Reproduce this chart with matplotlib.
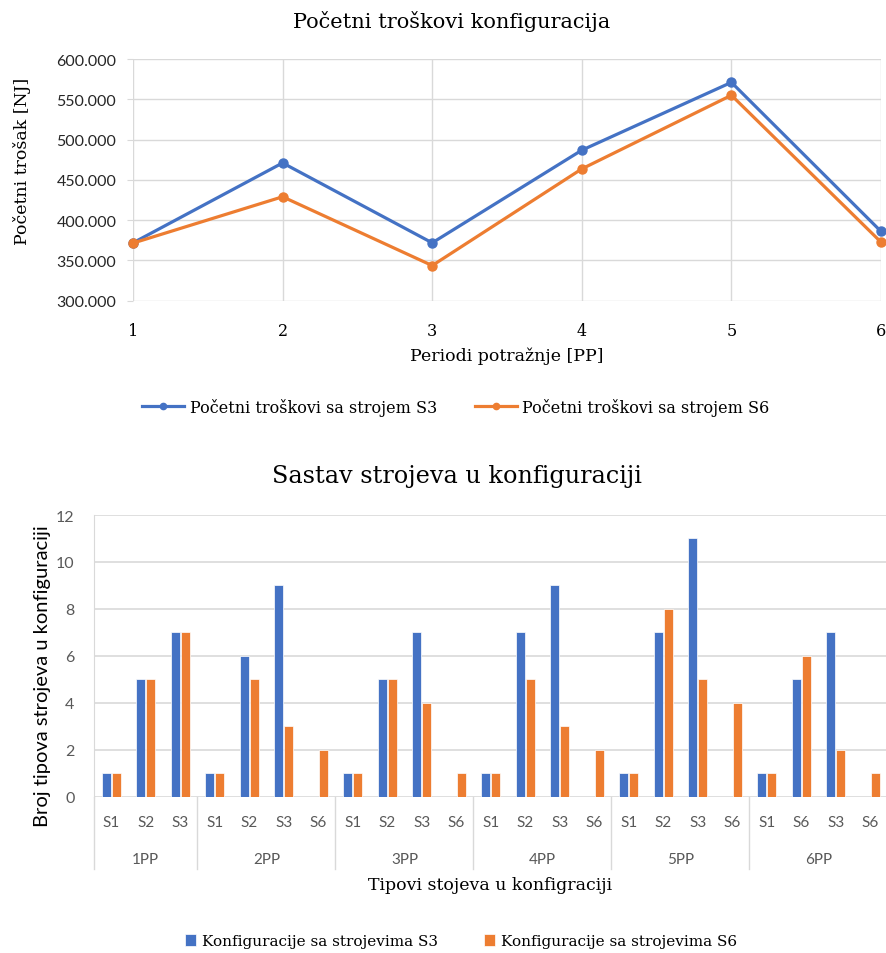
import numpy as np
import matplotlib.pyplot as plt
from matplotlib.ticker import FuncFormatter
from matplotlib.lines import Line2D
import matplotlib.transforms as mtransforms

# --- initial configuration costs per demand period ---
periods = [1, 2, 3, 4, 5, 6]
cost_s3 = [371800, 471000, 371800, 486800, 571000, 386000]
cost_s6 = [371500, 429000, 343600, 463600, 555000, 372700]

# --- machine counts per configuration ---
groups = ["1PP", "2PP", "3PP", "4PP", "5PP", "6PP"]
machines = [
    ["S1", "S2", "S3"],
    ["S1", "S2", "S3", "S6"],
    ["S1", "S2", "S3", "S6"],
    ["S1", "S2", "S3", "S6"],
    ["S1", "S2", "S3", "S6"],
    ["S1", "S6", "S3", "S6"],
]
count_s3 = [
    [1, 5, 7],
    [1, 6, 9, 0],
    [1, 5, 7, 0],
    [1, 7, 9, 0],
    [1, 7, 11, 0],
    [1, 5, 7, 0],
]
count_s6 = [
    [1, 5, 7],
    [1, 5, 3, 2],
    [1, 5, 4, 1],
    [1, 5, 3, 2],
    [1, 8, 5, 4],
    [1, 6, 2, 1],
]

BLUE = "#4472C4"
ORANGE = "#ED7D31"
GRID = "#D9D9D9"
TXT = "#595959"
SERIF = "DejaVu Serif"
SANS = "Lato"

W, H = 887, 954
fig = plt.figure(figsize=(W / 100, H / 100), dpi=100)


def box(l, t, r, b):
    return [l / W, 1 - b / H, (r - l) / W, (b - t) / H]


# ---------------- top: line chart ----------------
ax1 = fig.add_axes(box(133, 60, 881, 301.7))
ax1.plot(periods, cost_s3, "o-", color=BLUE, lw=2.3, ms=6.5, clip_on=False, zorder=3)
ax1.plot(periods, cost_s6, "o-", color=ORANGE, lw=2.3, ms=6.5, clip_on=False, zorder=3)
ax1.set_xlim(1, 6)
ax1.set_ylim(300000, 600000)
ax1.set_yticks(np.arange(300000, 600001, 50000))
ax1.set_xticks(periods)
ax1.yaxis.set_major_formatter(FuncFormatter(lambda v, p: f"{int(v):,}".replace(",", ".")))
ax1.grid(True, color=GRID, lw=1)
for s in ax1.spines.values():
    s.set_visible(False)
ax1.tick_params(axis="y", length=4, color=GRID, pad=8, labelsize=11.5, labelcolor="#262626")
ax1.tick_params(axis="x", length=0, pad=15)
for lab in ax1.get_yticklabels():
    lab.set_fontfamily(SANS)
for lab in ax1.get_xticklabels():
    lab.set_fontfamily(SERIF)
    lab.set_fontsize(11.5)
ax1.set_xlabel("Periodi potražnje [PP]", family=SERIF, fontsize=12.5, labelpad=6)
fig.text(22 / W, 1 - 161 / H, "Početni trošak [NJ]", family=SERIF, fontsize=12.5,
         ha="center", va="center", rotation=90)
fig.text(452 / W, 1 - 22 / H, "Početni troškovi konfiguracija", family=SERIF,
         fontsize=15, ha="center", va="center")
line_handles = [
    Line2D([], [], color=BLUE, lw=2.3, marker="o", ms=4.5),
    Line2D([], [], color=ORANGE, lw=2.3, marker="o", ms=4.5),
]
fig.legend(line_handles, ["Početni troškovi sa strojem S3", "Početni troškovi sa strojem S6"],
           loc="center", bbox_to_anchor=(456 / W, 1 - 408 / H),
           ncol=2, frameon=False, prop={"family": SERIF, "size": 11.5},
           handlelength=2.6, columnspacing=2.4, handletextpad=0.35)

# ---------------- bottom: grouped bars ----------------
ax2 = fig.add_axes(box(94, 516, 887.5, 797.7))
labels = [m for grp in machines for m in grp]
vals_s3 = [v for grp in count_s3 for v in grp]
vals_s6 = [v for grp in count_s6 for v in grp]
x = np.arange(len(labels))
bw = 0.25
ax2.bar(x - 0.145, vals_s3, bw, color=BLUE, edgecolor="white", lw=0.5,
        label="Konfiguracije sa strojevima S3", zorder=3)
ax2.bar(x + 0.145, vals_s6, bw, color=ORANGE, edgecolor="white", lw=0.5,
        label="Konfiguracije sa strojevima S6", zorder=3)
ax2.set_xlim(-0.5, len(labels) - 0.5)
ax2.set_ylim(0, 12)
ax2.set_yticks(range(0, 13, 2))
ax2.yaxis.grid(True, color=GRID, lw=1.2)
ax2.set_axisbelow(True)
for s in ["top", "right", "bottom"]:
    ax2.spines[s].set_visible(False)
ax2.spines["left"].set_color(GRID)
ax2.set_xticks(x)
ax2.set_xticklabels(labels)
ax2.tick_params(axis="x", length=0, pad=13, labelsize=11, labelcolor=TXT)
ax2.tick_params(axis="y", length=0, pad=14, labelsize=11.5, labelcolor=TXT)
for lab in ax2.get_xticklabels() + ax2.get_yticklabels():
    lab.set_fontfamily(SANS)

# category group separators and group names
trans = mtransforms.blended_transform_factory(ax2.transData, ax2.transAxes)
edges = np.cumsum([0] + [len(g) for g in machines]) - 0.5
for e in edges:
    ax2.plot([e, e], [0, -0.255], color=GRID, lw=1, transform=trans, clip_on=False)
for i, g in enumerate(groups):
    ax2.text((edges[i] + edges[i + 1]) / 2, -0.22, g, transform=trans, ha="center",
             va="center", fontsize=11, color=TXT, family=SANS)

fig.text(490 / W, 1 - 886 / H, "Tipovi stojeva u konfigraciji", family=SERIF,
         fontsize=12.5, ha="center", va="center")
fig.text(43 / W, 1 - 676 / H, "Broj tipova strojeva u konfiguraciji", family=SANS,
         fontsize=14.5, ha="center", va="center", rotation=90)
fig.text(457 / W, 1 - 476 / H, "Sastav strojeva u konfiguraciji", family=SERIF,
         fontsize=17.2, ha="center", va="center")
fig.legend(handles=ax2.containers, loc="center", bbox_to_anchor=(461 / W, 1 - 942 / H),
           ncol=2, frameon=False, prop={"family": SERIF, "size": 11},
           handlelength=0.7, handleheight=0.9, columnspacing=3, handletextpad=0.4)

fig.savefig("out.png", dpi=100)
